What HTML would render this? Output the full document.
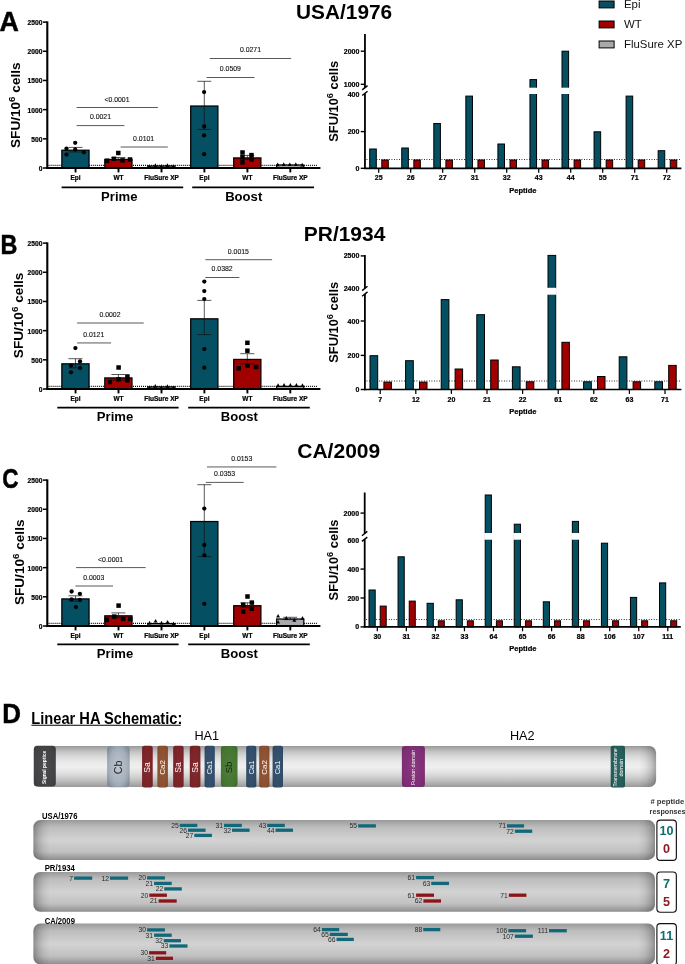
<!DOCTYPE html><html><head><meta charset="utf-8"><title>Figure</title><style>html,body{margin:0;padding:0;background:#fff}svg{display:block}text{font-family:"Liberation Sans",Arial,sans-serif}</style></head><body>
<svg width="685" height="964" viewBox="0 0 685 964">
<defs>
<linearGradient id="cyl" x1="0" y1="0" x2="0" y2="1"><stop offset="0" stop-color="#989898"/><stop offset="0.09" stop-color="#b5b5b5"/><stop offset="0.16" stop-color="#c7c7c7"/><stop offset="0.27" stop-color="#dbdbdb"/><stop offset="0.41" stop-color="#ebebeb"/><stop offset="0.52" stop-color="#efefef"/><stop offset="0.66" stop-color="#e0e0e0"/><stop offset="0.77" stop-color="#cecece"/><stop offset="0.88" stop-color="#b7b7b7"/><stop offset="1" stop-color="#999999"/></linearGradient>
<linearGradient id="sb" x1="0" y1="0" x2="0" y2="1"><stop offset="0" stop-color="#9a9a9a"/><stop offset="0.18" stop-color="#bdbdbd"/><stop offset="0.5" stop-color="#d3d3d3"/><stop offset="0.8" stop-color="#c0c0c0"/><stop offset="1" stop-color="#8e8e8e"/></linearGradient>
<linearGradient id="ends" x1="0" y1="0" x2="1" y2="0"><stop offset="0" stop-color="#000" stop-opacity="0.32"/><stop offset="0.008" stop-color="#000" stop-opacity="0.17"/><stop offset="0.017" stop-color="#000" stop-opacity="0.06"/><stop offset="0.027" stop-color="#000" stop-opacity="0"/><stop offset="0.973" stop-color="#000" stop-opacity="0"/><stop offset="0.983" stop-color="#000" stop-opacity="0.06"/><stop offset="0.992" stop-color="#000" stop-opacity="0.17"/><stop offset="1" stop-color="#000" stop-opacity="0.32"/></linearGradient>
<radialGradient id="cb" cx="0.5" cy="0.5" r="0.72"><stop offset="0" stop-color="#bcc5cf"/><stop offset="0.5" stop-color="#acb7c3"/><stop offset="1" stop-color="#8793a1"/></radialGradient>
<radialGradient id="dsh" cx="0.5" cy="0.5" r="0.75"><stop offset="0" stop-color="#fff" stop-opacity="0.06"/><stop offset="0.6" stop-color="#000" stop-opacity="0.02"/><stop offset="1" stop-color="#000" stop-opacity="0.18"/></radialGradient>
</defs>
<rect width="685" height="964" fill="#fff"/>
<text transform="translate(-0.6,30.7) scale(1.0,1)" font-size="26.8" font-weight="bold" stroke="#000" stroke-width="0.5">A</text>
<text transform="translate(0.5,253.8) scale(0.86,1)" font-size="27.2" font-weight="bold" stroke="#000" stroke-width="0.5">B</text>
<text transform="translate(2.3,488) scale(0.8,1)" font-size="28.2" font-weight="bold" stroke="#000" stroke-width="0.5">C</text>
<text transform="translate(2.2,722.8) scale(0.95,1)" font-size="27.3" font-weight="bold" stroke="#000" stroke-width="0.5">D</text>
<text x="344.1" y="18.8" font-size="20.4" font-weight="bold" text-anchor="middle" fill="#000" textLength="96" lengthAdjust="spacingAndGlyphs">USA/1976</text>
<text x="344.55" y="240.9" font-size="20.4" font-weight="bold" text-anchor="middle" fill="#000" textLength="81.5" lengthAdjust="spacingAndGlyphs">PR/1934</text>
<text x="338.75" y="458.1" font-size="20.4" font-weight="bold" text-anchor="middle" fill="#000" textLength="83" lengthAdjust="spacingAndGlyphs">CA/2009</text>
<rect x="599.1" y="1" width="15" height="6.9" fill="#054F63" stroke="#000" stroke-width="1" />
<text x="624" y="8.2" font-size="11.4" font-weight="normal" text-anchor="start" fill="#111" >Epi</text>
<rect x="599.1" y="21" width="15" height="6.9" fill="#A00000" stroke="#000" stroke-width="1" />
<text x="624" y="28.2" font-size="11.4" font-weight="normal" text-anchor="start" fill="#111" >WT</text>
<rect x="599.1" y="41" width="15" height="6.9" fill="#A9A9AD" stroke="#000" stroke-width="1" />
<text x="624" y="48.2" font-size="11.4" font-weight="normal" text-anchor="start" fill="#111" >FluSure XP</text>
<line x1="48.6" y1="165.35" x2="317.5" y2="165.35" stroke="#000" stroke-width="1.1" stroke-dasharray="0.95 1.06"/>
<rect x="61.85" y="150.22" width="27.2" height="17.78" fill="#054F63" stroke="#000" stroke-width="1.25" />
<rect x="104.8" y="159.42" width="27.2" height="8.58" fill="#A00000" stroke="#000" stroke-width="1.25" />
<rect x="147.8" y="166.02" width="27.2" height="1.98" fill="#A9A9AD" stroke="#000" stroke-width="1.25" />
<rect x="190.7" y="106.02" width="27.2" height="61.98" fill="#054F63" stroke="#000" stroke-width="1.25" />
<rect x="233.7" y="157.92" width="27.2" height="10.08" fill="#A00000" stroke="#000" stroke-width="1.25" />
<rect x="276.6" y="165.02" width="27.2" height="2.98" fill="#A9A9AD" stroke="#000" stroke-width="1.25" />
<line x1="75.45" y1="147.4" x2="75.45" y2="151.9" stroke="#111" stroke-width="0.7" />
<line x1="68.45" y1="147.4" x2="82.45" y2="147.4" stroke="#111" stroke-width="0.7" />
<line x1="68.45" y1="151.9" x2="82.45" y2="151.9" stroke="#111" stroke-width="0.7" />
<line x1="118.4" y1="157.5" x2="118.4" y2="160.2" stroke="#111" stroke-width="0.7" />
<line x1="111.4" y1="157.5" x2="125.4" y2="157.5" stroke="#111" stroke-width="0.7" />
<line x1="111.4" y1="160.2" x2="125.4" y2="160.2" stroke="#111" stroke-width="0.7" />
<line x1="204.3" y1="81.3" x2="204.3" y2="129.4" stroke="#111" stroke-width="0.7" />
<line x1="197.3" y1="81.3" x2="211.3" y2="81.3" stroke="#111" stroke-width="0.7" />
<line x1="197.3" y1="129.4" x2="211.3" y2="129.4" stroke="#111" stroke-width="0.7" />
<line x1="247.3" y1="155.4" x2="247.3" y2="159.4" stroke="#111" stroke-width="0.7" />
<line x1="240.3" y1="155.4" x2="254.3" y2="155.4" stroke="#111" stroke-width="0.7" />
<line x1="240.3" y1="159.4" x2="254.3" y2="159.4" stroke="#111" stroke-width="0.7" />
<line x1="47.3" y1="21.35" x2="47.3" y2="168.95" stroke="#000" stroke-width="2.1" />
<line x1="46.3" y1="168" x2="320.4" y2="168" stroke="#000" stroke-width="1.9" />
<line x1="43" y1="168" x2="47" y2="168" stroke="#000" stroke-width="1.5" />
<text x="42.5" y="170.95" font-size="6.7" font-weight="bold" text-anchor="end" fill="#000" stroke="#000" stroke-width="0.22">0</text>
<line x1="43" y1="138.82" x2="47" y2="138.82" stroke="#000" stroke-width="1.5" />
<text x="42.5" y="141.77" font-size="6.7" font-weight="bold" text-anchor="end" fill="#000" stroke="#000" stroke-width="0.22">500</text>
<line x1="43" y1="109.64" x2="47" y2="109.64" stroke="#000" stroke-width="1.5" />
<text x="42.5" y="112.59" font-size="6.7" font-weight="bold" text-anchor="end" fill="#000" stroke="#000" stroke-width="0.22">1000</text>
<line x1="43" y1="80.46" x2="47" y2="80.46" stroke="#000" stroke-width="1.5" />
<text x="42.5" y="83.41" font-size="6.7" font-weight="bold" text-anchor="end" fill="#000" stroke="#000" stroke-width="0.22">1500</text>
<line x1="43" y1="51.28" x2="47" y2="51.28" stroke="#000" stroke-width="1.5" />
<text x="42.5" y="54.23" font-size="6.7" font-weight="bold" text-anchor="end" fill="#000" stroke="#000" stroke-width="0.22">2000</text>
<line x1="43" y1="22.1" x2="47" y2="22.1" stroke="#000" stroke-width="1.5" />
<text x="42.5" y="25.05" font-size="6.7" font-weight="bold" text-anchor="end" fill="#000" stroke="#000" stroke-width="0.22">2500</text>
<line x1="75.55" y1="168" x2="75.55" y2="172.4" stroke="#000" stroke-width="1.9" />
<text x="75.55" y="179.5" font-size="6.5" font-weight="bold" text-anchor="middle" fill="#000" stroke="#000" stroke-width="0.22">Epi</text>
<line x1="118.5" y1="168" x2="118.5" y2="172.4" stroke="#000" stroke-width="1.9" />
<text x="118.5" y="179.5" font-size="6.5" font-weight="bold" text-anchor="middle" fill="#000" stroke="#000" stroke-width="0.22">WT</text>
<line x1="161.5" y1="168" x2="161.5" y2="172.4" stroke="#000" stroke-width="1.9" />
<text x="161.5" y="179.5" font-size="6.5" font-weight="bold" text-anchor="middle" fill="#000" stroke="#000" stroke-width="0.22">FluSure XP</text>
<line x1="204.4" y1="168" x2="204.4" y2="172.4" stroke="#000" stroke-width="1.9" />
<text x="204.4" y="179.5" font-size="6.5" font-weight="bold" text-anchor="middle" fill="#000" stroke="#000" stroke-width="0.22">Epi</text>
<line x1="247.4" y1="168" x2="247.4" y2="172.4" stroke="#000" stroke-width="1.9" />
<text x="247.4" y="179.5" font-size="6.5" font-weight="bold" text-anchor="middle" fill="#000" stroke="#000" stroke-width="0.22">WT</text>
<line x1="290.3" y1="168" x2="290.3" y2="172.4" stroke="#000" stroke-width="1.9" />
<text x="290.3" y="179.5" font-size="6.5" font-weight="bold" text-anchor="middle" fill="#000" stroke="#000" stroke-width="0.22">FluSure XP</text>
<circle cx="75.2" cy="142.8" r="2.15"/>
<circle cx="66.5" cy="148.6" r="2.15"/>
<circle cx="75.2" cy="149.5" r="2.15"/>
<circle cx="83.9" cy="152.3" r="2.15"/>
<circle cx="66.5" cy="154.6" r="2.15"/>
<rect x="116.05" y="150.75" width="4.5" height="4.5" fill="#000" />
<rect x="111.65" y="156.55" width="4.5" height="4.5" fill="#000" />
<rect x="120.35" y="158.15" width="4.5" height="4.5" fill="#000" />
<rect x="127.75" y="157.25" width="4.5" height="4.5" fill="#000" />
<rect x="104.85" y="158.55" width="4.5" height="4.5" fill="#000" />
<path d="M147.35 167.9L151.25 167.9L149.3 164.2Z"/>
<path d="M153.45 166.9L157.35 166.9L155.4 163.2Z"/>
<path d="M159.35 167.7L163.25 167.7L161.3 164Z"/>
<path d="M165.45 166.9L169.35 166.9L167.4 163.2Z"/>
<path d="M171.35 167.9L175.25 167.9L173.3 164.2Z"/>
<circle cx="204.1" cy="92.1" r="2.15"/>
<circle cx="204.1" cy="126.5" r="2.15"/>
<circle cx="204.1" cy="135.4" r="2.15"/>
<circle cx="204.1" cy="154.2" r="2.15"/>
<rect x="240.25" y="150.25" width="4.5" height="4.5" fill="#000" />
<rect x="240.25" y="154.95" width="4.5" height="4.5" fill="#000" />
<rect x="240.25" y="160.05" width="4.5" height="4.5" fill="#000" />
<rect x="249.25" y="152.85" width="4.5" height="4.5" fill="#000" />
<rect x="249.25" y="157.25" width="4.5" height="4.5" fill="#000" />
<path d="M275.75 166.3L279.65 166.3L277.7 162.6Z"/>
<path d="M281.75 165.9L285.65 165.9L283.7 162.2Z"/>
<path d="M287.85 166.1L291.75 166.1L289.8 162.4Z"/>
<path d="M293.85 165.9L297.75 165.9L295.8 162.2Z"/>
<path d="M300.25 166.5L304.15 166.5L302.2 162.8Z"/>
<line x1="76.6" y1="107.5" x2="157.8" y2="107.5" stroke="#222" stroke-width="0.75" />
<text x="117" y="101.75" font-size="6.9" font-weight="normal" text-anchor="middle" fill="#111" stroke="#111" stroke-width="0.12">&lt;0.0001</text>
<line x1="76.6" y1="125.6" x2="124.4" y2="125.6" stroke="#222" stroke-width="0.75" />
<text x="100.5" y="119.45" font-size="6.9" font-weight="normal" text-anchor="middle" fill="#111" stroke="#111" stroke-width="0.12">0.0021</text>
<line x1="120.6" y1="147" x2="167.8" y2="147" stroke="#222" stroke-width="0.75" />
<text x="143.6" y="140.65" font-size="6.9" font-weight="normal" text-anchor="middle" fill="#111" stroke="#111" stroke-width="0.12">0.0101</text>
<line x1="209.8" y1="58.5" x2="291.2" y2="58.5" stroke="#222" stroke-width="0.75" />
<text x="250.5" y="52.05" font-size="6.9" font-weight="normal" text-anchor="middle" fill="#111" stroke="#111" stroke-width="0.12">0.0271</text>
<line x1="206.5" y1="77.5" x2="254.5" y2="77.5" stroke="#222" stroke-width="0.75" />
<text x="230.4" y="70.95" font-size="6.9" font-weight="normal" text-anchor="middle" fill="#111" stroke="#111" stroke-width="0.12">0.0509</text>
<line x1="61.6" y1="187.4" x2="183.2" y2="187.4" stroke="#000" stroke-width="1.7" />
<line x1="192.2" y1="187.4" x2="314" y2="187.4" stroke="#000" stroke-width="1.7" />
<text x="119.3" y="200.5" font-size="13.1" font-weight="bold" text-anchor="middle" fill="#000" >Prime</text>
<text x="243.7" y="200.5" font-size="13.1" font-weight="bold" text-anchor="middle" fill="#000" >Boost</text>
<text transform="translate(20.2,105.2) rotate(-90)" font-size="13.6" font-weight="bold" text-anchor="middle">SFU/10<tspan font-size="9.79" dy="-5.44">6</tspan><tspan dy="5.44"> cells</tspan></text>
<line x1="48.6" y1="386.35" x2="317.5" y2="386.35" stroke="#000" stroke-width="1.1" stroke-dasharray="0.95 1.06"/>
<rect x="61.85" y="363.82" width="27.2" height="25.18" fill="#054F63" stroke="#000" stroke-width="1.25" />
<rect x="104.8" y="377.92" width="27.2" height="11.08" fill="#A00000" stroke="#000" stroke-width="1.25" />
<rect x="147.8" y="386.92" width="27.2" height="2.08" fill="#A9A9AD" stroke="#000" stroke-width="1.25" />
<rect x="190.7" y="318.82" width="27.2" height="70.18" fill="#054F63" stroke="#000" stroke-width="1.25" />
<rect x="233.7" y="359.42" width="27.2" height="29.58" fill="#A00000" stroke="#000" stroke-width="1.25" />
<rect x="276.6" y="386.42" width="27.2" height="2.58" fill="#A9A9AD" stroke="#000" stroke-width="1.25" />
<line x1="75.45" y1="358.7" x2="75.45" y2="367.9" stroke="#111" stroke-width="0.7" />
<line x1="68.45" y1="358.7" x2="82.45" y2="358.7" stroke="#111" stroke-width="0.7" />
<line x1="68.45" y1="367.9" x2="82.45" y2="367.9" stroke="#111" stroke-width="0.7" />
<line x1="118.4" y1="374.5" x2="118.4" y2="380.2" stroke="#111" stroke-width="0.7" />
<line x1="111.4" y1="374.5" x2="125.4" y2="374.5" stroke="#111" stroke-width="0.7" />
<line x1="111.4" y1="380.2" x2="125.4" y2="380.2" stroke="#111" stroke-width="0.7" />
<line x1="204.3" y1="300.4" x2="204.3" y2="334.6" stroke="#111" stroke-width="0.7" />
<line x1="197.3" y1="300.4" x2="211.3" y2="300.4" stroke="#111" stroke-width="0.7" />
<line x1="197.3" y1="334.6" x2="211.3" y2="334.6" stroke="#111" stroke-width="0.7" />
<line x1="247.3" y1="353.7" x2="247.3" y2="363.9" stroke="#111" stroke-width="0.7" />
<line x1="240.3" y1="353.7" x2="254.3" y2="353.7" stroke="#111" stroke-width="0.7" />
<line x1="240.3" y1="363.9" x2="254.3" y2="363.9" stroke="#111" stroke-width="0.7" />
<line x1="47.3" y1="242.35" x2="47.3" y2="389.95" stroke="#000" stroke-width="2.1" />
<line x1="46.3" y1="389" x2="320.4" y2="389" stroke="#000" stroke-width="1.9" />
<line x1="43" y1="389" x2="47" y2="389" stroke="#000" stroke-width="1.5" />
<text x="42.5" y="391.95" font-size="6.7" font-weight="bold" text-anchor="end" fill="#000" stroke="#000" stroke-width="0.22">0</text>
<line x1="43" y1="359.82" x2="47" y2="359.82" stroke="#000" stroke-width="1.5" />
<text x="42.5" y="362.77" font-size="6.7" font-weight="bold" text-anchor="end" fill="#000" stroke="#000" stroke-width="0.22">500</text>
<line x1="43" y1="330.64" x2="47" y2="330.64" stroke="#000" stroke-width="1.5" />
<text x="42.5" y="333.59" font-size="6.7" font-weight="bold" text-anchor="end" fill="#000" stroke="#000" stroke-width="0.22">1000</text>
<line x1="43" y1="301.46" x2="47" y2="301.46" stroke="#000" stroke-width="1.5" />
<text x="42.5" y="304.41" font-size="6.7" font-weight="bold" text-anchor="end" fill="#000" stroke="#000" stroke-width="0.22">1500</text>
<line x1="43" y1="272.28" x2="47" y2="272.28" stroke="#000" stroke-width="1.5" />
<text x="42.5" y="275.23" font-size="6.7" font-weight="bold" text-anchor="end" fill="#000" stroke="#000" stroke-width="0.22">2000</text>
<line x1="43" y1="243.1" x2="47" y2="243.1" stroke="#000" stroke-width="1.5" />
<text x="42.5" y="246.05" font-size="6.7" font-weight="bold" text-anchor="end" fill="#000" stroke="#000" stroke-width="0.22">2500</text>
<line x1="75.55" y1="389" x2="75.55" y2="393.4" stroke="#000" stroke-width="1.9" />
<text x="75.55" y="400.5" font-size="6.5" font-weight="bold" text-anchor="middle" fill="#000" stroke="#000" stroke-width="0.22">Epi</text>
<line x1="118.5" y1="389" x2="118.5" y2="393.4" stroke="#000" stroke-width="1.9" />
<text x="118.5" y="400.5" font-size="6.5" font-weight="bold" text-anchor="middle" fill="#000" stroke="#000" stroke-width="0.22">WT</text>
<line x1="161.5" y1="389" x2="161.5" y2="393.4" stroke="#000" stroke-width="1.9" />
<text x="161.5" y="400.5" font-size="6.5" font-weight="bold" text-anchor="middle" fill="#000" stroke="#000" stroke-width="0.22">FluSure XP</text>
<line x1="204.4" y1="389" x2="204.4" y2="393.4" stroke="#000" stroke-width="1.9" />
<text x="204.4" y="400.5" font-size="6.5" font-weight="bold" text-anchor="middle" fill="#000" stroke="#000" stroke-width="0.22">Epi</text>
<line x1="247.4" y1="389" x2="247.4" y2="393.4" stroke="#000" stroke-width="1.9" />
<text x="247.4" y="400.5" font-size="6.5" font-weight="bold" text-anchor="middle" fill="#000" stroke="#000" stroke-width="0.22">WT</text>
<line x1="290.3" y1="389" x2="290.3" y2="393.4" stroke="#000" stroke-width="1.9" />
<text x="290.3" y="400.5" font-size="6.5" font-weight="bold" text-anchor="middle" fill="#000" stroke="#000" stroke-width="0.22">FluSure XP</text>
<circle cx="75.4" cy="348.1" r="2.15"/>
<circle cx="80" cy="361.5" r="2.15"/>
<circle cx="71" cy="365.7" r="2.15"/>
<circle cx="80" cy="368" r="2.15"/>
<circle cx="71" cy="372.3" r="2.15"/>
<rect x="116.35" y="365.25" width="4.5" height="4.5" fill="#000" />
<rect x="125.15" y="374.25" width="4.5" height="4.5" fill="#000" />
<rect x="116.35" y="377.05" width="4.5" height="4.5" fill="#000" />
<rect x="125.15" y="378.05" width="4.5" height="4.5" fill="#000" />
<rect x="107.55" y="379.75" width="4.5" height="4.5" fill="#000" />
<path d="M147.55 389.1L151.45 389.1L149.5 385.4Z"/>
<path d="M153.35 387.7L157.25 387.7L155.3 384Z"/>
<path d="M159.35 388.9L163.25 388.9L161.3 385.2Z"/>
<path d="M165.45 387.9L169.35 387.9L167.4 384.2Z"/>
<path d="M171.55 389.1L175.45 389.1L173.5 385.4Z"/>
<circle cx="204.3" cy="281.6" r="2.15"/>
<circle cx="204.3" cy="291.1" r="2.15"/>
<circle cx="204.3" cy="299.1" r="2.15"/>
<circle cx="204.3" cy="349.1" r="2.15"/>
<circle cx="204.3" cy="367.7" r="2.15"/>
<rect x="245.15" y="340.55" width="4.5" height="4.5" fill="#000" />
<rect x="245.15" y="348.45" width="4.5" height="4.5" fill="#000" />
<rect x="245.15" y="363.35" width="4.5" height="4.5" fill="#000" />
<rect x="236.45" y="366.05" width="4.5" height="4.5" fill="#000" />
<rect x="253.85" y="364.75" width="4.5" height="4.5" fill="#000" />
<path d="M276.15 386.9L280.05 386.9L278.1 383.2Z"/>
<path d="M282.15 386.7L286.05 386.7L284.1 383Z"/>
<path d="M288.45 386.8L292.35 386.8L290.4 383.1Z"/>
<path d="M294.45 386.7L298.35 386.7L296.4 383Z"/>
<path d="M300.55 387L304.45 387L302.5 383.3Z"/>
<line x1="77.1" y1="323" x2="143.7" y2="323" stroke="#222" stroke-width="0.75" />
<text x="110" y="316.95" font-size="6.9" font-weight="normal" text-anchor="middle" fill="#111" stroke="#111" stroke-width="0.12">0.0002</text>
<line x1="77.1" y1="342.95" x2="111" y2="342.95" stroke="#222" stroke-width="0.75" />
<text x="93.7" y="336.55" font-size="6.9" font-weight="normal" text-anchor="middle" fill="#111" stroke="#111" stroke-width="0.12">0.0121</text>
<line x1="205.3" y1="259.7" x2="272.1" y2="259.7" stroke="#222" stroke-width="0.75" />
<text x="238.4" y="253.65" font-size="6.9" font-weight="normal" text-anchor="middle" fill="#111" stroke="#111" stroke-width="0.12">0.0015</text>
<line x1="205.3" y1="277.5" x2="239.4" y2="277.5" stroke="#222" stroke-width="0.75" />
<text x="222.1" y="270.95" font-size="6.9" font-weight="normal" text-anchor="middle" fill="#111" stroke="#111" stroke-width="0.12">0.0382</text>
<line x1="57.3" y1="407.7" x2="178.6" y2="407.7" stroke="#000" stroke-width="1.7" />
<line x1="188.2" y1="407.7" x2="309.8" y2="407.7" stroke="#000" stroke-width="1.7" />
<text x="115" y="420.8" font-size="13.1" font-weight="bold" text-anchor="middle" fill="#000" >Prime</text>
<text x="239.4" y="420.8" font-size="13.1" font-weight="bold" text-anchor="middle" fill="#000" >Boost</text>
<text transform="translate(23,315.4) rotate(-90)" font-size="13.6" font-weight="bold" text-anchor="middle">SFU/10<tspan font-size="9.79" dy="-5.44">6</tspan><tspan dy="5.44"> cells</tspan></text>
<line x1="48.6" y1="623.35" x2="317.5" y2="623.35" stroke="#000" stroke-width="1.1" stroke-dasharray="0.95 1.06"/>
<rect x="61.85" y="598.92" width="27.2" height="27.08" fill="#054F63" stroke="#000" stroke-width="1.25" />
<rect x="104.8" y="615.82" width="27.2" height="10.18" fill="#A00000" stroke="#000" stroke-width="1.25" />
<rect x="147.8" y="623.62" width="27.2" height="2.38" fill="#A9A9AD" stroke="#000" stroke-width="1.25" />
<rect x="190.7" y="521.52" width="27.2" height="104.48" fill="#054F63" stroke="#000" stroke-width="1.25" />
<rect x="233.7" y="605.72" width="27.2" height="20.28" fill="#A00000" stroke="#000" stroke-width="1.25" />
<rect x="276.6" y="619.02" width="27.2" height="6.98" fill="#A9A9AD" stroke="#000" stroke-width="1.25" />
<line x1="75.45" y1="595.8" x2="75.45" y2="601.2" stroke="#111" stroke-width="0.7" />
<line x1="68.45" y1="595.8" x2="82.45" y2="595.8" stroke="#111" stroke-width="0.7" />
<line x1="68.45" y1="601.2" x2="82.45" y2="601.2" stroke="#111" stroke-width="0.7" />
<line x1="118.4" y1="612.9" x2="118.4" y2="617.8" stroke="#111" stroke-width="0.7" />
<line x1="111.4" y1="612.9" x2="125.4" y2="612.9" stroke="#111" stroke-width="0.7" />
<line x1="111.4" y1="617.8" x2="125.4" y2="617.8" stroke="#111" stroke-width="0.7" />
<line x1="204.3" y1="484.7" x2="204.3" y2="556.6" stroke="#111" stroke-width="0.7" />
<line x1="197.3" y1="484.7" x2="211.3" y2="484.7" stroke="#111" stroke-width="0.7" />
<line x1="197.3" y1="556.6" x2="211.3" y2="556.6" stroke="#111" stroke-width="0.7" />
<line x1="247.3" y1="602.8" x2="247.3" y2="607.6" stroke="#111" stroke-width="0.7" />
<line x1="240.3" y1="602.8" x2="254.3" y2="602.8" stroke="#111" stroke-width="0.7" />
<line x1="240.3" y1="607.6" x2="254.3" y2="607.6" stroke="#111" stroke-width="0.7" />
<line x1="290.2" y1="617.3" x2="290.2" y2="619.6" stroke="#111" stroke-width="0.7" />
<line x1="283.2" y1="617.3" x2="297.2" y2="617.3" stroke="#111" stroke-width="0.7" />
<line x1="283.2" y1="619.6" x2="297.2" y2="619.6" stroke="#111" stroke-width="0.7" />
<line x1="47.3" y1="479.35" x2="47.3" y2="626.95" stroke="#000" stroke-width="2.1" />
<line x1="46.3" y1="626" x2="320.4" y2="626" stroke="#000" stroke-width="1.9" />
<line x1="43" y1="626" x2="47" y2="626" stroke="#000" stroke-width="1.5" />
<text x="42.5" y="628.95" font-size="6.7" font-weight="bold" text-anchor="end" fill="#000" stroke="#000" stroke-width="0.22">0</text>
<line x1="43" y1="596.82" x2="47" y2="596.82" stroke="#000" stroke-width="1.5" />
<text x="42.5" y="599.77" font-size="6.7" font-weight="bold" text-anchor="end" fill="#000" stroke="#000" stroke-width="0.22">500</text>
<line x1="43" y1="567.64" x2="47" y2="567.64" stroke="#000" stroke-width="1.5" />
<text x="42.5" y="570.59" font-size="6.7" font-weight="bold" text-anchor="end" fill="#000" stroke="#000" stroke-width="0.22">1000</text>
<line x1="43" y1="538.46" x2="47" y2="538.46" stroke="#000" stroke-width="1.5" />
<text x="42.5" y="541.41" font-size="6.7" font-weight="bold" text-anchor="end" fill="#000" stroke="#000" stroke-width="0.22">1500</text>
<line x1="43" y1="509.28" x2="47" y2="509.28" stroke="#000" stroke-width="1.5" />
<text x="42.5" y="512.23" font-size="6.7" font-weight="bold" text-anchor="end" fill="#000" stroke="#000" stroke-width="0.22">2000</text>
<line x1="43" y1="480.1" x2="47" y2="480.1" stroke="#000" stroke-width="1.5" />
<text x="42.5" y="483.05" font-size="6.7" font-weight="bold" text-anchor="end" fill="#000" stroke="#000" stroke-width="0.22">2500</text>
<line x1="75.55" y1="626" x2="75.55" y2="630.4" stroke="#000" stroke-width="1.9" />
<text x="75.55" y="637.5" font-size="6.5" font-weight="bold" text-anchor="middle" fill="#000" stroke="#000" stroke-width="0.22">Epi</text>
<line x1="118.5" y1="626" x2="118.5" y2="630.4" stroke="#000" stroke-width="1.9" />
<text x="118.5" y="637.5" font-size="6.5" font-weight="bold" text-anchor="middle" fill="#000" stroke="#000" stroke-width="0.22">WT</text>
<line x1="161.5" y1="626" x2="161.5" y2="630.4" stroke="#000" stroke-width="1.9" />
<text x="161.5" y="637.5" font-size="6.5" font-weight="bold" text-anchor="middle" fill="#000" stroke="#000" stroke-width="0.22">FluSure XP</text>
<line x1="204.4" y1="626" x2="204.4" y2="630.4" stroke="#000" stroke-width="1.9" />
<text x="204.4" y="637.5" font-size="6.5" font-weight="bold" text-anchor="middle" fill="#000" stroke="#000" stroke-width="0.22">Epi</text>
<line x1="247.4" y1="626" x2="247.4" y2="630.4" stroke="#000" stroke-width="1.9" />
<text x="247.4" y="637.5" font-size="6.5" font-weight="bold" text-anchor="middle" fill="#000" stroke="#000" stroke-width="0.22">WT</text>
<line x1="290.3" y1="626" x2="290.3" y2="630.4" stroke="#000" stroke-width="1.9" />
<text x="290.3" y="637.5" font-size="6.5" font-weight="bold" text-anchor="middle" fill="#000" stroke="#000" stroke-width="0.22">FluSure XP</text>
<circle cx="71.6" cy="591.5" r="2.15"/>
<circle cx="79.9" cy="593.8" r="2.15"/>
<circle cx="71.6" cy="599.3" r="2.15"/>
<circle cx="79.9" cy="599.8" r="2.15"/>
<circle cx="75.9" cy="607.1" r="2.15"/>
<rect x="116.35" y="603.35" width="4.5" height="4.5" fill="#000" />
<rect x="112.05" y="614.35" width="4.5" height="4.5" fill="#000" />
<rect x="120.85" y="616.65" width="4.5" height="4.5" fill="#000" />
<rect x="127.95" y="616.65" width="4.5" height="4.5" fill="#000" />
<rect x="104.55" y="617.65" width="4.5" height="4.5" fill="#000" />
<path d="M147.55 624.5L151.45 624.5L149.5 620.8Z"/>
<path d="M153.65 622.6L157.55 622.6L155.6 618.9Z"/>
<path d="M159.55 624.5L163.45 624.5L161.5 620.8Z"/>
<path d="M165.65 623.6L169.55 623.6L167.6 619.9Z"/>
<path d="M171.55 625.2L175.45 625.2L173.5 621.5Z"/>
<circle cx="204.3" cy="508.6" r="2.15"/>
<circle cx="204.3" cy="545" r="2.15"/>
<circle cx="204.3" cy="555.3" r="2.15"/>
<circle cx="204.3" cy="603.8" r="2.15"/>
<rect x="245.25" y="594.25" width="4.5" height="4.5" fill="#000" />
<rect x="249.55" y="600.35" width="4.5" height="4.5" fill="#000" />
<rect x="240.95" y="602.55" width="4.5" height="4.5" fill="#000" />
<rect x="249.55" y="606.55" width="4.5" height="4.5" fill="#000" />
<rect x="240.95" y="609.35" width="4.5" height="4.5" fill="#000" />
<path d="M276.15 617.6L280.05 617.6L278.1 613.9Z"/>
<path d="M284.35 619.7L288.25 619.7L286.3 616Z"/>
<path d="M292.35 621.7L296.25 621.7L294.3 618Z"/>
<path d="M300.55 619.7L304.45 619.7L302.5 616Z"/>
<path d="M276.15 623.6L280.05 623.6L278.1 619.9Z"/>
<line x1="76.1" y1="567.6" x2="145.7" y2="567.6" stroke="#222" stroke-width="0.75" />
<text x="110.6" y="561.55" font-size="6.9" font-weight="normal" text-anchor="middle" fill="#111" stroke="#111" stroke-width="0.12">&lt;0.0001</text>
<line x1="75.4" y1="586" x2="113" y2="586" stroke="#222" stroke-width="0.75" />
<text x="93.7" y="579.65" font-size="6.9" font-weight="normal" text-anchor="middle" fill="#111" stroke="#111" stroke-width="0.12">0.0003</text>
<line x1="207" y1="466.95" x2="276.4" y2="466.95" stroke="#222" stroke-width="0.75" />
<text x="241.7" y="460.55" font-size="6.9" font-weight="normal" text-anchor="middle" fill="#111" stroke="#111" stroke-width="0.12">0.0153</text>
<line x1="205.8" y1="482.4" x2="243.7" y2="482.4" stroke="#222" stroke-width="0.75" />
<text x="224.6" y="476.15" font-size="6.9" font-weight="normal" text-anchor="middle" fill="#111" stroke="#111" stroke-width="0.12">0.0353</text>
<line x1="57.3" y1="644.3" x2="178.6" y2="644.3" stroke="#000" stroke-width="1.7" />
<line x1="188.2" y1="644.3" x2="309.8" y2="644.3" stroke="#000" stroke-width="1.7" />
<text x="115" y="657.6" font-size="13.1" font-weight="bold" text-anchor="middle" fill="#000" >Prime</text>
<text x="239.4" y="657.6" font-size="13.1" font-weight="bold" text-anchor="middle" fill="#000" >Boost</text>
<text transform="translate(24.1,562.3) rotate(-90)" font-size="13.6" font-weight="bold" text-anchor="middle">SFU/10<tspan font-size="9.79" dy="-5.44">6</tspan><tspan dy="5.44"> cells</tspan></text>
<line x1="366.55" y1="159.5" x2="680.4" y2="159.5" stroke="#000" stroke-width="1.0" stroke-dasharray="0.8 1.7"/>
<rect x="369.7" y="149" width="6.6" height="19.3" fill="#054F63" stroke="#000" stroke-width="1" />
<rect x="381.8" y="160" width="6.5" height="8.3" fill="#A00000" stroke="#000" stroke-width="1" />
<rect x="401.75" y="148" width="6.6" height="20.3" fill="#054F63" stroke="#000" stroke-width="1" />
<rect x="413.85" y="160" width="6.5" height="8.3" fill="#A00000" stroke="#000" stroke-width="1" />
<rect x="433.8" y="123.5" width="6.6" height="44.8" fill="#054F63" stroke="#000" stroke-width="1" />
<rect x="445.9" y="160" width="6.5" height="8.3" fill="#A00000" stroke="#000" stroke-width="1" />
<rect x="465.85" y="96.1" width="6.6" height="72.2" fill="#054F63" stroke="#000" stroke-width="1" />
<rect x="477.95" y="160" width="6.5" height="8.3" fill="#A00000" stroke="#000" stroke-width="1" />
<rect x="497.9" y="144" width="6.6" height="24.3" fill="#054F63" stroke="#000" stroke-width="1" />
<rect x="510" y="160" width="6.5" height="8.3" fill="#A00000" stroke="#000" stroke-width="1" />
<rect x="529.95" y="79.6" width="6.6" height="88.7" fill="#054F63" stroke="#000" stroke-width="1" />
<rect x="528.95" y="87.7" width="8.6" height="6.3" fill="#fff" />
<rect x="542.05" y="160" width="6.5" height="8.3" fill="#A00000" stroke="#000" stroke-width="1" />
<rect x="562" y="51.2" width="6.6" height="117.1" fill="#054F63" stroke="#000" stroke-width="1" />
<rect x="561" y="87.7" width="8.6" height="6.3" fill="#fff" />
<rect x="574.1" y="160" width="6.5" height="8.3" fill="#A00000" stroke="#000" stroke-width="1" />
<rect x="594.05" y="131.8" width="6.6" height="36.5" fill="#054F63" stroke="#000" stroke-width="1" />
<rect x="606.15" y="160" width="6.5" height="8.3" fill="#A00000" stroke="#000" stroke-width="1" />
<rect x="626.1" y="96.1" width="6.6" height="72.2" fill="#054F63" stroke="#000" stroke-width="1" />
<rect x="638.2" y="160" width="6.5" height="8.3" fill="#A00000" stroke="#000" stroke-width="1" />
<rect x="658.15" y="150.7" width="6.6" height="17.6" fill="#054F63" stroke="#000" stroke-width="1" />
<rect x="670.25" y="160" width="6.5" height="8.3" fill="#A00000" stroke="#000" stroke-width="1" />
<line x1="364.95" y1="33.9" x2="364.95" y2="87.8" stroke="#000" stroke-width="1.8" />
<line x1="364.95" y1="93.4" x2="364.95" y2="169" stroke="#000" stroke-width="1.8" />
<line x1="362.2" y1="89.9" x2="367.55" y2="85.6" stroke="#000" stroke-width="1.4" />
<line x1="362.2" y1="95.5" x2="367.55" y2="91.2" stroke="#000" stroke-width="1.4" />
<line x1="364.05" y1="168.3" x2="681.4" y2="168.3" stroke="#000" stroke-width="1.7" />
<line x1="360.75" y1="168.3" x2="364.95" y2="168.3" stroke="#000" stroke-width="1.4" />
<text x="359.35" y="170.8" font-size="7" font-weight="bold" text-anchor="end" fill="#000" stroke="#000" stroke-width="0.22">0</text>
<line x1="360.75" y1="131.6" x2="364.95" y2="131.6" stroke="#000" stroke-width="1.4" />
<text x="359.35" y="134.1" font-size="7" font-weight="bold" text-anchor="end" fill="#000" stroke="#000" stroke-width="0.22">200</text>
<text x="359.35" y="97" font-size="7" font-weight="bold" text-anchor="end" fill="#000" stroke="#000" stroke-width="0.22">400</text>
<line x1="360.75" y1="84.3" x2="364.95" y2="84.3" stroke="#000" stroke-width="1.4" />
<text x="359.35" y="86.8" font-size="7" font-weight="bold" text-anchor="end" fill="#000" stroke="#000" stroke-width="0.22">1000</text>
<line x1="360.75" y1="51.2" x2="364.95" y2="51.2" stroke="#000" stroke-width="1.4" />
<text x="359.35" y="53.7" font-size="7" font-weight="bold" text-anchor="end" fill="#000" stroke="#000" stroke-width="0.22">2000</text>
<line x1="378.7" y1="168.3" x2="378.7" y2="172.7" stroke="#000" stroke-width="1.25" />
<text x="378.7" y="180.45" font-size="7" font-weight="bold" text-anchor="middle" fill="#000" stroke="#000" stroke-width="0.22">25</text>
<line x1="410.7" y1="168.3" x2="410.7" y2="172.7" stroke="#000" stroke-width="1.25" />
<text x="410.7" y="180.45" font-size="7" font-weight="bold" text-anchor="middle" fill="#000" stroke="#000" stroke-width="0.22">26</text>
<line x1="442.7" y1="168.3" x2="442.7" y2="172.7" stroke="#000" stroke-width="1.25" />
<text x="442.7" y="180.45" font-size="7" font-weight="bold" text-anchor="middle" fill="#000" stroke="#000" stroke-width="0.22">27</text>
<line x1="474.7" y1="168.3" x2="474.7" y2="172.7" stroke="#000" stroke-width="1.25" />
<text x="474.7" y="180.45" font-size="7" font-weight="bold" text-anchor="middle" fill="#000" stroke="#000" stroke-width="0.22">31</text>
<line x1="506.7" y1="168.3" x2="506.7" y2="172.7" stroke="#000" stroke-width="1.25" />
<text x="506.7" y="180.45" font-size="7" font-weight="bold" text-anchor="middle" fill="#000" stroke="#000" stroke-width="0.22">32</text>
<line x1="538.7" y1="168.3" x2="538.7" y2="172.7" stroke="#000" stroke-width="1.25" />
<text x="538.7" y="180.45" font-size="7" font-weight="bold" text-anchor="middle" fill="#000" stroke="#000" stroke-width="0.22">43</text>
<line x1="570.7" y1="168.3" x2="570.7" y2="172.7" stroke="#000" stroke-width="1.25" />
<text x="570.7" y="180.45" font-size="7" font-weight="bold" text-anchor="middle" fill="#000" stroke="#000" stroke-width="0.22">44</text>
<line x1="602.7" y1="168.3" x2="602.7" y2="172.7" stroke="#000" stroke-width="1.25" />
<text x="602.7" y="180.45" font-size="7" font-weight="bold" text-anchor="middle" fill="#000" stroke="#000" stroke-width="0.22">55</text>
<line x1="634.7" y1="168.3" x2="634.7" y2="172.7" stroke="#000" stroke-width="1.25" />
<text x="634.7" y="180.45" font-size="7" font-weight="bold" text-anchor="middle" fill="#000" stroke="#000" stroke-width="0.22">71</text>
<line x1="666.7" y1="168.3" x2="666.7" y2="172.7" stroke="#000" stroke-width="1.25" />
<text x="666.7" y="180.45" font-size="7" font-weight="bold" text-anchor="middle" fill="#000" stroke="#000" stroke-width="0.22">72</text>
<text x="522.9" y="192.9" font-size="7.5" font-weight="bold" text-anchor="middle" fill="#000" stroke="#000" stroke-width="0.22">Peptide</text>
<text transform="translate(338.3,101.3) rotate(-90)" font-size="12.85" font-weight="bold" text-anchor="middle">SFU/10<tspan font-size="9.25" dy="-5.14">6</tspan><tspan dy="5.14"> cells</tspan></text>
<line x1="366.5" y1="381" x2="680.4" y2="381" stroke="#000" stroke-width="1.0" stroke-dasharray="0.8 1.7"/>
<rect x="370" y="355.7" width="7.7" height="33.8" fill="#054F63" stroke="#000" stroke-width="1" />
<rect x="383.9" y="382.1" width="7.5" height="7.4" fill="#A00000" stroke="#000" stroke-width="1" />
<rect x="405.6" y="360.7" width="7.7" height="28.8" fill="#054F63" stroke="#000" stroke-width="1" />
<rect x="419.5" y="382.1" width="7.5" height="7.4" fill="#A00000" stroke="#000" stroke-width="1" />
<rect x="441.2" y="299.6" width="7.7" height="89.9" fill="#054F63" stroke="#000" stroke-width="1" />
<rect x="455.1" y="369" width="7.5" height="20.5" fill="#A00000" stroke="#000" stroke-width="1" />
<rect x="476.8" y="314.7" width="7.7" height="74.8" fill="#054F63" stroke="#000" stroke-width="1" />
<rect x="490.7" y="360" width="7.5" height="29.5" fill="#A00000" stroke="#000" stroke-width="1" />
<rect x="512.4" y="366.8" width="7.7" height="22.7" fill="#054F63" stroke="#000" stroke-width="1" />
<rect x="526.3" y="381.8" width="7.5" height="7.7" fill="#A00000" stroke="#000" stroke-width="1" />
<rect x="548" y="255.4" width="7.7" height="134.1" fill="#054F63" stroke="#000" stroke-width="1" />
<rect x="547" y="287.8" width="9.7" height="6.9" fill="#fff" />
<rect x="561.9" y="342.3" width="7.5" height="47.2" fill="#A00000" stroke="#000" stroke-width="1" />
<rect x="583.6" y="381.8" width="7.7" height="7.7" fill="#054F63" stroke="#000" stroke-width="1" />
<rect x="597.5" y="376.5" width="7.5" height="13" fill="#A00000" stroke="#000" stroke-width="1" />
<rect x="619.2" y="356.8" width="7.7" height="32.7" fill="#054F63" stroke="#000" stroke-width="1" />
<rect x="633.1" y="381.8" width="7.5" height="7.7" fill="#A00000" stroke="#000" stroke-width="1" />
<rect x="654.8" y="381.8" width="7.7" height="7.7" fill="#054F63" stroke="#000" stroke-width="1" />
<rect x="668.7" y="365.4" width="7.5" height="24.1" fill="#A00000" stroke="#000" stroke-width="1" />
<line x1="364.9" y1="255" x2="364.9" y2="288.5" stroke="#000" stroke-width="1.8" />
<line x1="364.9" y1="294.1" x2="364.9" y2="390.2" stroke="#000" stroke-width="1.8" />
<line x1="362.15" y1="290.6" x2="367.5" y2="286.3" stroke="#000" stroke-width="1.4" />
<line x1="362.15" y1="296.2" x2="367.5" y2="291.9" stroke="#000" stroke-width="1.4" />
<line x1="364" y1="389.5" x2="681.4" y2="389.5" stroke="#000" stroke-width="1.7" />
<line x1="360.7" y1="389.5" x2="364.9" y2="389.5" stroke="#000" stroke-width="1.4" />
<text x="359.3" y="392" font-size="7" font-weight="bold" text-anchor="end" fill="#000" stroke="#000" stroke-width="0.22">0</text>
<line x1="360.7" y1="355.4" x2="364.9" y2="355.4" stroke="#000" stroke-width="1.4" />
<text x="359.3" y="357.9" font-size="7" font-weight="bold" text-anchor="end" fill="#000" stroke="#000" stroke-width="0.22">200</text>
<line x1="360.7" y1="321" x2="364.9" y2="321" stroke="#000" stroke-width="1.4" />
<text x="359.3" y="323.5" font-size="7" font-weight="bold" text-anchor="end" fill="#000" stroke="#000" stroke-width="0.22">400</text>
<text x="359.3" y="290.6" font-size="7" font-weight="bold" text-anchor="end" fill="#000" stroke="#000" stroke-width="0.22">2400</text>
<line x1="360.7" y1="255.9" x2="364.9" y2="255.9" stroke="#000" stroke-width="1.4" />
<text x="359.3" y="258.4" font-size="7" font-weight="bold" text-anchor="end" fill="#000" stroke="#000" stroke-width="0.22">2500</text>
<line x1="380.2" y1="389.5" x2="380.2" y2="393.9" stroke="#000" stroke-width="1.25" />
<text x="380.2" y="401.55" font-size="7" font-weight="bold" text-anchor="middle" fill="#000" stroke="#000" stroke-width="0.22">7</text>
<line x1="415.8" y1="389.5" x2="415.8" y2="393.9" stroke="#000" stroke-width="1.25" />
<text x="415.8" y="401.55" font-size="7" font-weight="bold" text-anchor="middle" fill="#000" stroke="#000" stroke-width="0.22">12</text>
<line x1="451.4" y1="389.5" x2="451.4" y2="393.9" stroke="#000" stroke-width="1.25" />
<text x="451.4" y="401.55" font-size="7" font-weight="bold" text-anchor="middle" fill="#000" stroke="#000" stroke-width="0.22">20</text>
<line x1="487" y1="389.5" x2="487" y2="393.9" stroke="#000" stroke-width="1.25" />
<text x="487" y="401.55" font-size="7" font-weight="bold" text-anchor="middle" fill="#000" stroke="#000" stroke-width="0.22">21</text>
<line x1="522.6" y1="389.5" x2="522.6" y2="393.9" stroke="#000" stroke-width="1.25" />
<text x="522.6" y="401.55" font-size="7" font-weight="bold" text-anchor="middle" fill="#000" stroke="#000" stroke-width="0.22">22</text>
<line x1="558.2" y1="389.5" x2="558.2" y2="393.9" stroke="#000" stroke-width="1.25" />
<text x="558.2" y="401.55" font-size="7" font-weight="bold" text-anchor="middle" fill="#000" stroke="#000" stroke-width="0.22">61</text>
<line x1="593.8" y1="389.5" x2="593.8" y2="393.9" stroke="#000" stroke-width="1.25" />
<text x="593.8" y="401.55" font-size="7" font-weight="bold" text-anchor="middle" fill="#000" stroke="#000" stroke-width="0.22">62</text>
<line x1="629.4" y1="389.5" x2="629.4" y2="393.9" stroke="#000" stroke-width="1.25" />
<text x="629.4" y="401.55" font-size="7" font-weight="bold" text-anchor="middle" fill="#000" stroke="#000" stroke-width="0.22">63</text>
<line x1="665" y1="389.5" x2="665" y2="393.9" stroke="#000" stroke-width="1.25" />
<text x="665" y="401.55" font-size="7" font-weight="bold" text-anchor="middle" fill="#000" stroke="#000" stroke-width="0.22">71</text>
<text x="522.9" y="414" font-size="7.5" font-weight="bold" text-anchor="middle" fill="#000" stroke="#000" stroke-width="0.22">Peptide</text>
<text transform="translate(338.3,322.3) rotate(-90)" font-size="12.85" font-weight="bold" text-anchor="middle">SFU/10<tspan font-size="9.25" dy="-5.14">6</tspan><tspan dy="5.14"> cells</tspan></text>
<line x1="366.3" y1="619.5" x2="679.8" y2="619.5" stroke="#000" stroke-width="1.0" stroke-dasharray="0.8 1.7"/>
<rect x="369" y="590" width="6.2" height="36.9" fill="#054F63" stroke="#000" stroke-width="1" />
<rect x="380.2" y="606.1" width="6" height="20.8" fill="#A00000" stroke="#000" stroke-width="1" />
<rect x="398.05" y="556.8" width="6.2" height="70.1" fill="#054F63" stroke="#000" stroke-width="1" />
<rect x="409.25" y="601.1" width="6" height="25.8" fill="#A00000" stroke="#000" stroke-width="1" />
<rect x="427.1" y="603.3" width="6.2" height="23.6" fill="#054F63" stroke="#000" stroke-width="1" />
<rect x="438.3" y="620.8" width="6" height="6.1" fill="#A00000" stroke="#000" stroke-width="1" />
<rect x="456.15" y="599.8" width="6.2" height="27.1" fill="#054F63" stroke="#000" stroke-width="1" />
<rect x="467.35" y="620.8" width="6" height="6.1" fill="#A00000" stroke="#000" stroke-width="1" />
<rect x="485.2" y="495" width="6.2" height="131.9" fill="#054F63" stroke="#000" stroke-width="1" />
<rect x="484.2" y="533" width="8.2" height="6.7" fill="#fff" />
<rect x="496.4" y="620.8" width="6" height="6.1" fill="#A00000" stroke="#000" stroke-width="1" />
<rect x="514.25" y="524.2" width="6.2" height="102.7" fill="#054F63" stroke="#000" stroke-width="1" />
<rect x="513.25" y="533" width="8.2" height="6.7" fill="#fff" />
<rect x="525.45" y="620.8" width="6" height="6.1" fill="#A00000" stroke="#000" stroke-width="1" />
<rect x="543.3" y="601.8" width="6.2" height="25.1" fill="#054F63" stroke="#000" stroke-width="1" />
<rect x="554.5" y="620.8" width="6" height="6.1" fill="#A00000" stroke="#000" stroke-width="1" />
<rect x="572.35" y="521.4" width="6.2" height="105.5" fill="#054F63" stroke="#000" stroke-width="1" />
<rect x="571.35" y="533" width="8.2" height="6.7" fill="#fff" />
<rect x="583.55" y="620.8" width="6" height="6.1" fill="#A00000" stroke="#000" stroke-width="1" />
<rect x="601.4" y="543.2" width="6.2" height="83.7" fill="#054F63" stroke="#000" stroke-width="1" />
<rect x="612.6" y="620.8" width="6" height="6.1" fill="#A00000" stroke="#000" stroke-width="1" />
<rect x="630.45" y="597.4" width="6.2" height="29.5" fill="#054F63" stroke="#000" stroke-width="1" />
<rect x="641.65" y="620.8" width="6" height="6.1" fill="#A00000" stroke="#000" stroke-width="1" />
<rect x="659.5" y="582.9" width="6.2" height="44" fill="#054F63" stroke="#000" stroke-width="1" />
<rect x="670.7" y="620.8" width="6" height="6.1" fill="#A00000" stroke="#000" stroke-width="1" />
<line x1="364.7" y1="492.5" x2="364.7" y2="533.6" stroke="#000" stroke-width="1.8" />
<line x1="364.7" y1="539.3" x2="364.7" y2="627.6" stroke="#000" stroke-width="1.8" />
<line x1="361.95" y1="535.7" x2="367.3" y2="531.4" stroke="#000" stroke-width="1.4" />
<line x1="361.95" y1="541.4" x2="367.3" y2="537.1" stroke="#000" stroke-width="1.4" />
<line x1="363.8" y1="626.9" x2="680.8" y2="626.9" stroke="#000" stroke-width="1.7" />
<line x1="360.5" y1="626.9" x2="364.7" y2="626.9" stroke="#000" stroke-width="1.4" />
<text x="359.1" y="629.4" font-size="7" font-weight="bold" text-anchor="end" fill="#000" stroke="#000" stroke-width="0.22">0</text>
<line x1="360.5" y1="598" x2="364.7" y2="598" stroke="#000" stroke-width="1.4" />
<text x="359.1" y="600.5" font-size="7" font-weight="bold" text-anchor="end" fill="#000" stroke="#000" stroke-width="0.22">200</text>
<line x1="360.5" y1="569.1" x2="364.7" y2="569.1" stroke="#000" stroke-width="1.4" />
<text x="359.1" y="571.6" font-size="7" font-weight="bold" text-anchor="end" fill="#000" stroke="#000" stroke-width="0.22">400</text>
<text x="359.1" y="542.9" font-size="7" font-weight="bold" text-anchor="end" fill="#000" stroke="#000" stroke-width="0.22">600</text>
<line x1="360.5" y1="513.1" x2="364.7" y2="513.1" stroke="#000" stroke-width="1.4" />
<text x="359.1" y="515.6" font-size="7" font-weight="bold" text-anchor="end" fill="#000" stroke="#000" stroke-width="0.22">2000</text>
<line x1="377.3" y1="626.9" x2="377.3" y2="631.3" stroke="#000" stroke-width="1.25" />
<text x="377.3" y="639.05" font-size="7" font-weight="bold" text-anchor="middle" fill="#000" stroke="#000" stroke-width="0.22">30</text>
<line x1="406.35" y1="626.9" x2="406.35" y2="631.3" stroke="#000" stroke-width="1.25" />
<text x="406.35" y="639.05" font-size="7" font-weight="bold" text-anchor="middle" fill="#000" stroke="#000" stroke-width="0.22">31</text>
<line x1="435.4" y1="626.9" x2="435.4" y2="631.3" stroke="#000" stroke-width="1.25" />
<text x="435.4" y="639.05" font-size="7" font-weight="bold" text-anchor="middle" fill="#000" stroke="#000" stroke-width="0.22">32</text>
<line x1="464.45" y1="626.9" x2="464.45" y2="631.3" stroke="#000" stroke-width="1.25" />
<text x="464.45" y="639.05" font-size="7" font-weight="bold" text-anchor="middle" fill="#000" stroke="#000" stroke-width="0.22">33</text>
<line x1="493.5" y1="626.9" x2="493.5" y2="631.3" stroke="#000" stroke-width="1.25" />
<text x="493.5" y="639.05" font-size="7" font-weight="bold" text-anchor="middle" fill="#000" stroke="#000" stroke-width="0.22">64</text>
<line x1="522.55" y1="626.9" x2="522.55" y2="631.3" stroke="#000" stroke-width="1.25" />
<text x="522.55" y="639.05" font-size="7" font-weight="bold" text-anchor="middle" fill="#000" stroke="#000" stroke-width="0.22">65</text>
<line x1="551.6" y1="626.9" x2="551.6" y2="631.3" stroke="#000" stroke-width="1.25" />
<text x="551.6" y="639.05" font-size="7" font-weight="bold" text-anchor="middle" fill="#000" stroke="#000" stroke-width="0.22">66</text>
<line x1="580.65" y1="626.9" x2="580.65" y2="631.3" stroke="#000" stroke-width="1.25" />
<text x="580.65" y="639.05" font-size="7" font-weight="bold" text-anchor="middle" fill="#000" stroke="#000" stroke-width="0.22">88</text>
<line x1="609.7" y1="626.9" x2="609.7" y2="631.3" stroke="#000" stroke-width="1.25" />
<text x="609.7" y="639.05" font-size="7" font-weight="bold" text-anchor="middle" fill="#000" stroke="#000" stroke-width="0.22">106</text>
<line x1="638.75" y1="626.9" x2="638.75" y2="631.3" stroke="#000" stroke-width="1.25" />
<text x="638.75" y="639.05" font-size="7" font-weight="bold" text-anchor="middle" fill="#000" stroke="#000" stroke-width="0.22">107</text>
<line x1="667.8" y1="626.9" x2="667.8" y2="631.3" stroke="#000" stroke-width="1.25" />
<text x="667.8" y="639.05" font-size="7" font-weight="bold" text-anchor="middle" fill="#000" stroke="#000" stroke-width="0.22">111</text>
<text x="522.9" y="651.3" font-size="7.5" font-weight="bold" text-anchor="middle" fill="#000" stroke="#000" stroke-width="0.22">Peptide</text>
<text transform="translate(338.3,560) rotate(-90)" font-size="12.85" font-weight="bold" text-anchor="middle">SFU/10<tspan font-size="9.25" dy="-5.14">6</tspan><tspan dy="5.14"> cells</tspan></text>
<text x="31.3" y="723.6" font-size="15.8" font-weight="bold" text-anchor="start" fill="#000" textLength="151" lengthAdjust="spacingAndGlyphs">Linear HA Schematic:</text>
<line x1="31.4" y1="725.3" x2="180.8" y2="725.3" stroke="#000" stroke-width="1.1" />
<text x="206.8" y="739.8" font-size="12.7" font-weight="normal" text-anchor="middle" fill="#000" >HA1</text>
<text x="522.3" y="740.2" font-size="12.7" font-weight="normal" text-anchor="middle" fill="#000" >HA2</text>
<rect x="33.9" y="745.9" width="622.2" height="41.1" fill="url(#cyl)" rx="7" ry="7"/>
<rect x="33.9" y="745.9" width="622.2" height="41.1" fill="url(#ends)" rx="7" ry="7"/>
<rect x="33.8" y="745.8" width="22" height="40.8" fill="#454547" rx="3.5" ry="3.5"/>
<rect x="33.8" y="745.8" width="22" height="40.8" fill="url(#dsh)" rx="3.5" ry="3.5"/>
<text transform="translate(46.42,767.4) rotate(-90)" font-size="4.9" font-weight="bold" text-anchor="middle" fill="#fff">Signal peptice</text>
<rect x="107.2" y="746" width="22.4" height="41.2" fill="url(#cb)" rx="3.5" ry="3.5"/>
<rect x="107.2" y="746" width="22.4" height="41.2" fill="url(#dsh)" rx="3.5" ry="3.5"/>
<text transform="translate(121.93,767.4) rotate(-90)" font-size="10.7" font-weight="normal" text-anchor="middle" fill="#222">Cb</text>
<rect x="142.1" y="745.8" width="10.6" height="41.7" fill="#7f2529" rx="2.2" ry="2.2"/>
<rect x="142.1" y="745.8" width="10.6" height="41.7" fill="url(#dsh)" rx="2.2" ry="2.2"/>
<text transform="translate(150.24,767.4) rotate(-90)" font-size="8.6" font-weight="normal" text-anchor="middle" fill="#fff">Sa</text>
<rect x="157.4" y="745.8" width="10.5" height="41.7" fill="#905333" rx="2.2" ry="2.2"/>
<rect x="157.4" y="745.8" width="10.5" height="41.7" fill="url(#dsh)" rx="2.2" ry="2.2"/>
<text transform="translate(165.29,767.4) rotate(-90)" font-size="8.0" font-weight="normal" text-anchor="middle" fill="#fff">Ca2</text>
<rect x="173.2" y="745.8" width="10.4" height="41.7" fill="#7f2529" rx="2.2" ry="2.2"/>
<rect x="173.2" y="745.8" width="10.4" height="41.7" fill="url(#dsh)" rx="2.2" ry="2.2"/>
<text transform="translate(181.24,767.4) rotate(-90)" font-size="8.6" font-weight="normal" text-anchor="middle" fill="#fff">Sa</text>
<rect x="189.8" y="745.8" width="10.6" height="41.7" fill="#7f2529" rx="2.2" ry="2.2"/>
<rect x="189.8" y="745.8" width="10.6" height="41.7" fill="url(#dsh)" rx="2.2" ry="2.2"/>
<text transform="translate(197.94,767.4) rotate(-90)" font-size="8.6" font-weight="normal" text-anchor="middle" fill="#fff">Sa</text>
<rect x="204.6" y="745.8" width="10.2" height="41.7" fill="#34506d" rx="2.2" ry="2.2"/>
<rect x="204.6" y="745.8" width="10.2" height="41.7" fill="url(#dsh)" rx="2.2" ry="2.2"/>
<text transform="translate(212.21,767.4) rotate(-90)" font-size="7.6" font-weight="normal" text-anchor="middle" fill="#fff">Ca1</text>
<rect x="220.9" y="746" width="16.6" height="40.7" fill="#487a33" rx="2.8" ry="2.8"/>
<rect x="220.9" y="746" width="16.6" height="40.7" fill="url(#dsh)" rx="2.8" ry="2.8"/>
<text transform="translate(232.37,767.4) rotate(-90)" font-size="9.6" font-weight="normal" text-anchor="middle" fill="#15200e">Sb</text>
<rect x="246.2" y="745.8" width="10.1" height="41.7" fill="#34506d" rx="2.2" ry="2.2"/>
<rect x="246.2" y="745.8" width="10.1" height="41.7" fill="url(#dsh)" rx="2.2" ry="2.2"/>
<text transform="translate(253.76,767.4) rotate(-90)" font-size="7.6" font-weight="normal" text-anchor="middle" fill="#fff">Ca1</text>
<rect x="259.2" y="745.8" width="10.2" height="41.7" fill="#905333" rx="2.2" ry="2.2"/>
<rect x="259.2" y="745.8" width="10.2" height="41.7" fill="url(#dsh)" rx="2.2" ry="2.2"/>
<text transform="translate(266.94,767.4) rotate(-90)" font-size="8.0" font-weight="normal" text-anchor="middle" fill="#fff">Ca2</text>
<rect x="272.6" y="745.8" width="10.4" height="41.7" fill="#34506d" rx="2.2" ry="2.2"/>
<rect x="272.6" y="745.8" width="10.4" height="41.7" fill="url(#dsh)" rx="2.2" ry="2.2"/>
<text transform="translate(280.31,767.4) rotate(-90)" font-size="7.6" font-weight="normal" text-anchor="middle" fill="#fff">Ca1</text>
<rect x="401.9" y="746" width="23" height="41.1" fill="#83307a" rx="3" ry="3"/>
<rect x="401.9" y="746" width="23" height="41.1" fill="url(#dsh)" rx="3" ry="3"/>
<text transform="translate(415.17,767.4) rotate(-90)" font-size="5.35" font-weight="normal" text-anchor="middle" fill="#fff">Fusion domain</text>
<rect x="610.7" y="745.7" width="14.3" height="41.8" fill="#26605d" rx="2" ry="2"/>
<rect x="610.7" y="745.7" width="14.3" height="41.8" fill="url(#dsh)" rx="2" ry="2"/>
<text transform="translate(616.79,767.4) rotate(-90)" font-size="5.25" font-weight="normal" text-anchor="middle" fill="#fff">Transmembrane</text>
<text transform="translate(623.28,767.6) rotate(-90)" font-size="5.45" font-weight="normal" text-anchor="middle" fill="#fff">domain</text>
<text x="667.3" y="804" font-size="7.8" font-weight="bold" text-anchor="middle" fill="#333" textLength="33.8" lengthAdjust="spacingAndGlyphs"># peptide</text>
<text x="667.6" y="814.2" font-size="7.8" font-weight="bold" text-anchor="middle" fill="#333" textLength="36.0" lengthAdjust="spacingAndGlyphs">responses</text>
<rect x="33.4" y="820.1" width="621.6" height="39.8" fill="url(#sb)" rx="7" ry="7"/>
<rect x="33.4" y="820.1" width="621.6" height="39.8" fill="url(#ends)" rx="7" ry="7"/>
<text x="42" y="819" font-size="8.3" font-weight="bold" text-anchor="start" fill="#000" textLength="35.4" lengthAdjust="spacingAndGlyphs">USA/1976</text>
<rect x="656.9" y="820.1" width="19.45" height="40.2" fill="#fff" stroke="#111" stroke-width="1.15" rx="3.4" ry="3.4"/>
<text x="666.5" y="834.6" font-size="12.6" font-weight="bold" text-anchor="middle" fill="#0d6d70" >10</text>
<text x="666.5" y="852.7" font-size="12.6" font-weight="bold" text-anchor="middle" fill="#8c1a22" >0</text>
<rect x="179.7" y="823.75" width="17.6" height="3.3" fill="#116878" />
<text x="178.7" y="827.8" font-size="6.8" font-weight="normal" text-anchor="end" fill="#2a2a2a" >25</text>
<rect x="188" y="828.55" width="17.6" height="3.3" fill="#116878" />
<text x="187" y="832.6" font-size="6.8" font-weight="normal" text-anchor="end" fill="#2a2a2a" >26</text>
<rect x="194.3" y="833.75" width="17.6" height="3.3" fill="#116878" />
<text x="193.3" y="837.8" font-size="6.8" font-weight="normal" text-anchor="end" fill="#2a2a2a" >27</text>
<rect x="224" y="823.75" width="17.8" height="3.3" fill="#116878" />
<text x="223" y="827.8" font-size="6.8" font-weight="normal" text-anchor="end" fill="#2a2a2a" >31</text>
<rect x="232" y="828.55" width="17.6" height="3.3" fill="#116878" />
<text x="231" y="832.6" font-size="6.8" font-weight="normal" text-anchor="end" fill="#2a2a2a" >32</text>
<rect x="267.2" y="823.75" width="17.6" height="3.3" fill="#116878" />
<text x="266.2" y="827.8" font-size="6.8" font-weight="normal" text-anchor="end" fill="#2a2a2a" >43</text>
<rect x="275.5" y="828.55" width="17.5" height="3.3" fill="#116878" />
<text x="274.5" y="832.6" font-size="6.8" font-weight="normal" text-anchor="end" fill="#2a2a2a" >44</text>
<rect x="358.1" y="824.25" width="17.8" height="3.3" fill="#116878" />
<text x="357.1" y="828.3" font-size="6.8" font-weight="normal" text-anchor="end" fill="#2a2a2a" >55</text>
<rect x="507" y="824.25" width="17.1" height="3.3" fill="#116878" />
<text x="506" y="828.3" font-size="6.8" font-weight="normal" text-anchor="end" fill="#2a2a2a" >71</text>
<rect x="514.8" y="829.55" width="17.4" height="3.3" fill="#116878" />
<text x="513.8" y="833.6" font-size="6.8" font-weight="normal" text-anchor="end" fill="#2a2a2a" >72</text>
<rect x="33.4" y="872" width="621.6" height="39.8" fill="url(#sb)" rx="7" ry="7"/>
<rect x="33.4" y="872" width="621.6" height="39.8" fill="url(#ends)" rx="7" ry="7"/>
<text x="44.7" y="871.4" font-size="8.3" font-weight="bold" text-anchor="start" fill="#000" textLength="30.2" lengthAdjust="spacingAndGlyphs">PR/1934</text>
<rect x="656.9" y="872" width="19.45" height="40.2" fill="#fff" stroke="#111" stroke-width="1.15" rx="3.4" ry="3.4"/>
<text x="666.5" y="888.2" font-size="12.6" font-weight="bold" text-anchor="middle" fill="#0d6d70" >7</text>
<text x="666.5" y="905.6" font-size="12.6" font-weight="bold" text-anchor="middle" fill="#8c1a22" >5</text>
<rect x="74.1" y="876.45" width="18.1" height="3.3" fill="#116878" />
<text x="73.1" y="880.5" font-size="6.8" font-weight="normal" text-anchor="end" fill="#2a2a2a" >7</text>
<rect x="110" y="876.45" width="18.1" height="3.3" fill="#116878" />
<text x="109" y="880.5" font-size="6.8" font-weight="normal" text-anchor="end" fill="#2a2a2a" >12</text>
<rect x="147.1" y="876.25" width="17.8" height="3.3" fill="#116878" />
<text x="146.1" y="880.3" font-size="6.8" font-weight="normal" text-anchor="end" fill="#2a2a2a" >20</text>
<rect x="154.1" y="881.75" width="17.6" height="3.3" fill="#116878" />
<text x="153.1" y="885.8" font-size="6.8" font-weight="normal" text-anchor="end" fill="#2a2a2a" >21</text>
<rect x="164.2" y="887.25" width="17.6" height="3.3" fill="#116878" />
<text x="163.2" y="891.3" font-size="6.8" font-weight="normal" text-anchor="end" fill="#2a2a2a" >22</text>
<rect x="149.3" y="893.55" width="17.6" height="3.3" fill="#8a1418" />
<text x="148.3" y="897.6" font-size="6.8" font-weight="normal" text-anchor="end" fill="#2a2a2a" >20</text>
<rect x="158.6" y="899.35" width="18.1" height="3.3" fill="#8a1418" />
<text x="157.6" y="903.4" font-size="6.8" font-weight="normal" text-anchor="end" fill="#2a2a2a" >21</text>
<rect x="416.1" y="875.95" width="17.9" height="3.3" fill="#116878" />
<text x="415.1" y="880" font-size="6.8" font-weight="normal" text-anchor="end" fill="#2a2a2a" >61</text>
<rect x="431.2" y="881.75" width="17.8" height="3.3" fill="#116878" />
<text x="430.2" y="885.8" font-size="6.8" font-weight="normal" text-anchor="end" fill="#2a2a2a" >63</text>
<rect x="416.1" y="893.55" width="17.9" height="3.3" fill="#8a1418" />
<text x="415.1" y="897.6" font-size="6.8" font-weight="normal" text-anchor="end" fill="#2a2a2a" >61</text>
<rect x="423.4" y="899.35" width="17.6" height="3.3" fill="#8a1418" />
<text x="422.4" y="903.4" font-size="6.8" font-weight="normal" text-anchor="end" fill="#2a2a2a" >62</text>
<rect x="508.8" y="893.55" width="17.6" height="3.3" fill="#8a1418" />
<text x="507.8" y="897.6" font-size="6.8" font-weight="normal" text-anchor="end" fill="#2a2a2a" >71</text>
<rect x="33.4" y="923.6" width="621.6" height="40.8" fill="url(#sb)" rx="7" ry="7"/>
<rect x="33.4" y="923.6" width="621.6" height="40.8" fill="url(#ends)" rx="7" ry="7"/>
<text x="44.7" y="923.7" font-size="8.3" font-weight="bold" text-anchor="start" fill="#000" textLength="30.2" lengthAdjust="spacingAndGlyphs">CA/2009</text>
<rect x="656.9" y="923.6" width="19.45" height="41.5" fill="#fff" stroke="#111" stroke-width="1.15" rx="3.4" ry="3.4"/>
<text x="666.5" y="939.7" font-size="12.6" font-weight="bold" text-anchor="middle" fill="#0d6d70" >11</text>
<text x="666.5" y="957.8" font-size="12.6" font-weight="bold" text-anchor="middle" fill="#8c1a22" >2</text>
<rect x="147.1" y="928.25" width="17.8" height="3.3" fill="#116878" />
<text x="146.1" y="932.3" font-size="6.8" font-weight="normal" text-anchor="end" fill="#2a2a2a" >30</text>
<rect x="154.1" y="933.55" width="17.6" height="3.3" fill="#116878" />
<text x="153.1" y="937.6" font-size="6.8" font-weight="normal" text-anchor="end" fill="#2a2a2a" >31</text>
<rect x="163.7" y="939.05" width="17.3" height="3.3" fill="#116878" />
<text x="162.7" y="943.1" font-size="6.8" font-weight="normal" text-anchor="end" fill="#2a2a2a" >32</text>
<rect x="169.4" y="944.35" width="18.1" height="3.3" fill="#116878" />
<text x="168.4" y="948.4" font-size="6.8" font-weight="normal" text-anchor="end" fill="#2a2a2a" >33</text>
<rect x="149.1" y="951.15" width="17.1" height="3.3" fill="#8a1418" />
<text x="148.1" y="955.2" font-size="6.8" font-weight="normal" text-anchor="end" fill="#2a2a2a" >30</text>
<rect x="155.9" y="956.65" width="17.1" height="3.3" fill="#8a1418" />
<text x="154.9" y="960.7" font-size="6.8" font-weight="normal" text-anchor="end" fill="#2a2a2a" >31</text>
<rect x="321.9" y="927.95" width="17.3" height="3.3" fill="#116878" />
<text x="320.9" y="932" font-size="6.8" font-weight="normal" text-anchor="end" fill="#2a2a2a" >64</text>
<rect x="329.7" y="932.75" width="18.1" height="3.3" fill="#116878" />
<text x="328.7" y="936.8" font-size="6.8" font-weight="normal" text-anchor="end" fill="#2a2a2a" >65</text>
<rect x="336.5" y="937.75" width="17.3" height="3.3" fill="#116878" />
<text x="335.5" y="941.8" font-size="6.8" font-weight="normal" text-anchor="end" fill="#2a2a2a" >66</text>
<rect x="423.2" y="927.95" width="17.1" height="3.3" fill="#116878" />
<text x="422.2" y="932" font-size="6.8" font-weight="normal" text-anchor="end" fill="#2a2a2a" >88</text>
<rect x="508.3" y="929.05" width="17.8" height="3.3" fill="#116878" />
<text x="507.3" y="933.1" font-size="6.8" font-weight="normal" text-anchor="end" fill="#2a2a2a" >106</text>
<rect x="514.8" y="934.55" width="18.1" height="3.3" fill="#116878" />
<text x="513.8" y="938.6" font-size="6.8" font-weight="normal" text-anchor="end" fill="#2a2a2a" >107</text>
<rect x="549" y="929.05" width="17.8" height="3.3" fill="#116878" />
<text x="548" y="933.1" font-size="6.8" font-weight="normal" text-anchor="end" fill="#2a2a2a" >111</text>
</svg></body></html>
